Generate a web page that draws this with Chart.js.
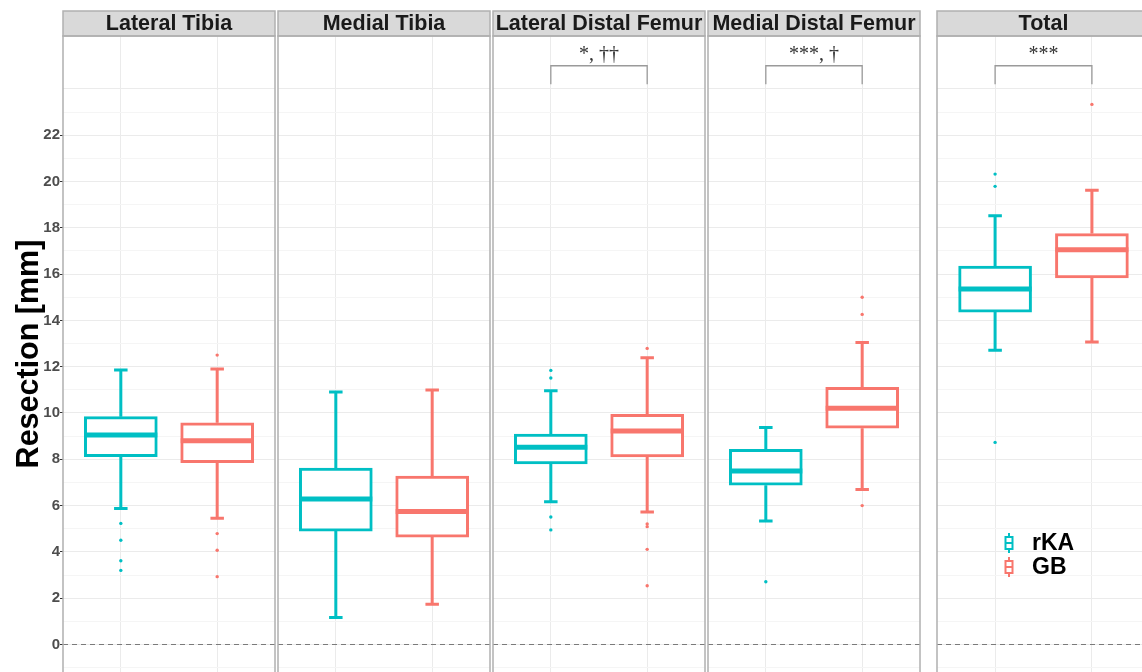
<!DOCTYPE html>
<html>
<head>
<meta charset="utf-8">
<script src="https://cdn.jsdelivr.net/npm/chart.js@4.4.1/dist/chart.umd.min.js"></script>
<style>
  html, body { margin: 0; padding: 0; background: #fff; overflow: hidden; }
  #wrap { position: relative; width: 1142px; height: 672px; overflow: hidden; background: #fff; }
  #wrap canvas { position: absolute; top: 0; }
</style>
</head>
<body>
<div id="wrap"></div>
<script>
// Facets and groups
const panels = ['Lateral Tibia', 'Medial Tibia', 'Lateral Distal Femur', 'Medial Distal Femur', 'Total'];
const groups = ['rKA', 'GB'];
const groupColors = ['#00BFC4', '#F8766D'];

// Box statistics per facet: [lower whisker, Q1, median, Q3, upper whisker] (mm)
const rkaStats = [
  [5.88, 8.11, 9.05, 9.84, 11.86],
  [1.17, 4.90, 6.28, 7.62, 10.91],
  [6.17, 7.80, 8.52, 9.09, 10.96],
  [5.33, 6.88, 7.49, 8.43, 9.37],
  [12.71, 14.36, 15.36, 16.35, 18.52]
];
const gbStats = [
  [5.45, 7.85, 8.80, 9.58, 11.90],
  [1.74, 4.64, 5.74, 7.28, 10.99],
  [5.72, 8.10, 9.22, 9.94, 12.39],
  [6.69, 9.34, 10.20, 11.11, 13.04],
  [13.07, 15.84, 17.05, 17.75, 19.62]
];

// Outlying observations per facet (mm)
const rkaOutliers = [
  [5.23, 4.50, 3.62, 3.20],
  [],
  [11.84, 11.51, 5.51, 4.95],
  [2.71],
  [20.32, 19.79, 8.73]
];
const gbOutliers = [
  [12.50, 4.79, 4.07, 2.93],
  [],
  [12.79, 5.21, 5.09, 4.11, 2.54],
  [15.00, 14.26, 6.00],
  [23.33]
];

// Significance annotations between rKA and GB
const significance = ['', '', '*, \u2020\u2020', '***, \u2020', '***'];

// Y axis
const yTickLabels = [0, 2, 4, 6, 8, 10, 12, 14, 16, 18, 20, 22];
const yGridValues = [-1, 0, 1, 2, 3, 4, 5, 6, 7, 8, 9, 10, 11, 12, 13, 14, 15, 16, 17, 18, 19, 20, 21, 22, 23, 24];
const yMin = -1.188, yMax = 26.285;
const bracketTop = 25.0, bracketTip = 24.2;

// Panel plot-area bounds in the page (px)
const panelBounds = [[63, 275], [278, 490], [493, 705], [708, 920], [937, 1150]];

const FONT = '"Liberation Sans", Arial, Helvetica, sans-serif';
const SERIF = '"Liberation Serif", "Times New Roman", serif';

const decor = {
  id: 'panelDecor',
  beforeDatasetsDraw(chart, args, opts) {
    const ctx = chart.ctx, a = chart.chartArea, x = chart.scales.x, y = chart.scales.y;
    const i = opts.index;
    // dashed reference line at 0
    ctx.save();
    ctx.beginPath();
    ctx.rect(a.left, a.top, a.right - a.left, a.bottom - a.top);
    ctx.clip();
    ctx.strokeStyle = '#7a7a7a';
    ctx.lineWidth = 1.2;
    ctx.setLineDash([5, 4]);
    ctx.beginPath();
    ctx.moveTo(a.left, y.getPixelForValue(0));
    ctx.lineTo(a.right, y.getPixelForValue(0));
    ctx.stroke();
    ctx.setLineDash([]);
    // whiskers and caps
    [rkaStats[i], gbStats[i]].forEach((s, k) => {
      const cx = x.getPixelForValue(k + 1);
      const half = (x.getPixelForValue(k + 1.07) - cx);
      ctx.strokeStyle = groupColors[k];
      ctx.lineWidth = 3;
      ctx.beginPath();
      ctx.moveTo(cx, y.getPixelForValue(s[3]));
      ctx.lineTo(cx, y.getPixelForValue(s[4]));
      ctx.moveTo(cx, y.getPixelForValue(s[1]));
      ctx.lineTo(cx, y.getPixelForValue(s[0]));
      ctx.moveTo(cx - half, y.getPixelForValue(s[4]));
      ctx.lineTo(cx + half, y.getPixelForValue(s[4]));
      ctx.moveTo(cx - half, y.getPixelForValue(s[0]));
      ctx.lineTo(cx + half, y.getPixelForValue(s[0]));
      ctx.stroke();
    });
    ctx.restore();
  },
  afterDatasetsDraw(chart, args, opts) {
    const ctx = chart.ctx, a = chart.chartArea, x = chart.scales.x, y = chart.scales.y;
    const i = opts.index;
    const meta = chart.getDatasetMeta(0);
    ctx.save();
    // medians
    [rkaStats[i], gbStats[i]].forEach((s, k) => {
      const el = meta.data[k];
      const my = y.getPixelForValue(s[2]);
      ctx.strokeStyle = groupColors[k];
      ctx.lineWidth = 5;
      ctx.beginPath();
      ctx.moveTo(el.x - el.width / 2, my);
      ctx.lineTo(el.x + el.width / 2, my);
      ctx.stroke();
    });
    // significance bracket
    if (significance[i]) {
      const x1 = x.getPixelForValue(1), x2 = x.getPixelForValue(2);
      const yt = y.getPixelForValue(bracketTop), yb = y.getPixelForValue(bracketTip);
      ctx.strokeStyle = '#9a9a9a';
      ctx.lineWidth = 1.3;
      ctx.beginPath();
      ctx.moveTo(x1, yb); ctx.lineTo(x1, yt); ctx.lineTo(x2, yt); ctx.lineTo(x2, yb);
      ctx.stroke();
      ctx.fillStyle = '#333';
      ctx.font = '20px ' + SERIF;
      ctx.textAlign = 'center';
      ctx.textBaseline = 'alphabetic';
      ctx.fillText(significance[i], (x1 + x2) / 2, yt - 6);
    }
    // legend inside the last facet
    if (i === panels.length - 1) {
      const lx = a.left + 72;
      groups.forEach((g, k) => {
        const ly = 543 + k * 24;
        ctx.strokeStyle = groupColors[k];
        ctx.lineWidth = 2;
        ctx.beginPath();
        ctx.moveTo(lx, ly - 10); ctx.lineTo(lx, ly + 10);
        ctx.stroke();
        ctx.fillStyle = '#fff';
        ctx.fillRect(lx - 3.5, ly - 6, 7, 12);
        ctx.strokeRect(lx - 3.5, ly - 6, 7, 12);
        ctx.beginPath();
        ctx.moveTo(lx - 3.5, ly); ctx.lineTo(lx + 3.5, ly);
        ctx.stroke();
        ctx.fillStyle = '#000';
        ctx.font = 'bold 23px ' + FONT;
        ctx.textAlign = 'left';
        ctx.textBaseline = 'middle';
        ctx.fillText(g, lx + 23, ly + 1);
      });
    }
    ctx.restore();
  },
  afterDraw(chart, args, opts) {
    const ctx = chart.ctx, a = chart.chartArea;
    const i = opts.index;
    ctx.save();
    // strip
    const sTop = 11, sBot = a.top;
    ctx.fillStyle = '#D9D9D9';
    ctx.fillRect(a.left, sTop, a.right - a.left, sBot - sTop);
    ctx.strokeStyle = '#B0B0B0';
    ctx.lineWidth = 1.5;
    ctx.strokeRect(a.left, sTop, a.right - a.left, sBot - sTop);
    ctx.fillStyle = '#1A1A1A';
    ctx.font = 'bold 21.5px ' + FONT;
    ctx.textAlign = 'center';
    ctx.textBaseline = 'middle';
    ctx.fillText(panels[i], (a.left + a.right) / 2, (sTop + sBot) / 2 + 1);
    // panel border
    ctx.strokeRect(a.left, a.top, a.right - a.left, a.bottom - a.top + 10);
    ctx.restore();
  }
};

function makePanel(i) {
  const [L, R] = panelBounds[i];
  const first = i === 0;
  const left = first ? 0 : L - 2;
  const width = first ? R + 2 : (R - L) + 4;
  const canvas = document.createElement('canvas');
  canvas.width = width; canvas.height = 672;
  canvas.style.left = left + 'px';
  canvas.style.width = width + 'px';
  canvas.style.height = '672px';
  document.getElementById('wrap').appendChild(canvas);

  const stats = [rkaStats[i], gbStats[i]];
  const outPts = [], outCols = [];
  [rkaOutliers[i], gbOutliers[i]].forEach((arr, k) => arr.forEach(v => {
    outPts.push({ x: k + 1, y: v });
    outCols.push(groupColors[k]);
  }));

  new Chart(canvas, {
    type: 'bar',
    data: {
      datasets: [
        {
          type: 'bar',
          data: groups.map((g, k) => ({ x: k + 1, y: [stats[k][1], stats[k][3]] })),
          backgroundColor: '#ffffff',
          borderColor: groupColors,
          borderWidth: 3,
          borderSkipped: false,
          barThickness: 73
        },
        {
          type: 'scatter',
          data: outPts,
          backgroundColor: outCols,
          borderWidth: 0,
          pointRadius: 1.7
        }
      ]
    },
    options: {
      responsive: false,
      animation: false,
      events: [],
      layout: { autoPadding: false, padding: { top: 36, bottom: 0, left: first ? 0 : 2, right: 2 } },
      plugins: {
        legend: { display: false },
        tooltip: { enabled: false },
        panelDecor: { index: i }
      },
      scales: {
        x: {
          type: 'linear', min: 0.4, max: 2.6, offset: false,
          afterBuildTicks: s => { s.ticks = [{ value: 1 }, { value: 2 }]; },
          afterFit: s => { s.height = 0; s.paddingLeft = 0; s.paddingRight = 0; },
          ticks: { display: false },
          grid: { color: '#EBEBEB', lineWidth: 1, drawTicks: false, tickLength: 0, offset: false },
          border: { display: false }
        },
        y: {
          type: 'linear', min: yMin, max: yMax, beginAtZero: false,
          afterBuildTicks: s => { s.ticks = yGridValues.map(v => ({ value: v })); },
          afterFit: s => { s.width = first ? 63 : 0; s.paddingTop = 0; s.paddingBottom = 0; },
          ticks: {
            display: first,
            autoSkip: false,
            padding: 0,
            color: '#4D4D4D',
            font: { family: FONT, size: 15, weight: 'bold' },
            callback: v => (yTickLabels.includes(v) ? String(v) : '')
          },
          grid: {
            color: c => (c.tick && c.tick.value % 2 === 0 ? '#EBEBEB' : '#F5F5F5'),
            lineWidth: 1,
            drawTicks: first,
            tickLength: first ? 3 : 0,
            tickColor: c => (c.tick && yTickLabels.includes(c.tick.value) ? '#333333' : 'rgba(0,0,0,0)')
          },
          border: { display: false },
          title: {
            display: first,
            text: 'Resection [mm]',
            color: '#000',
            font: { family: FONT, size: 30.5, weight: 'bold' },
            padding: { top: 11, bottom: 0 }
          }
        }
      }
    },
    plugins: [decor]
  });
}

panels.forEach((p, i) => makePanel(i));
</script>
</body>
</html>
